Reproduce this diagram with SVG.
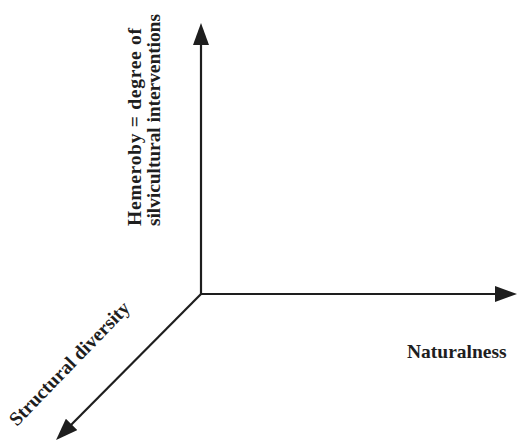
<svg xmlns="http://www.w3.org/2000/svg" width="518" height="440" viewBox="0 0 518 440">
<style>
.axis{stroke:#1e1e1e;stroke-width:2.2;fill:none;marker-end:url(#ah)}
.lbl{font-family:"Liberation Serif","Times New Roman",serif;font-weight:bold;font-size:19.5px;fill:#1e1e1e}
</style>
<defs>
<marker id="ah" viewBox="0 0 22 16" refX="10" refY="8" markerWidth="22" markerHeight="16" markerUnits="userSpaceOnUse" orient="auto">
<path d="M0,0 L22,8 L0,16 Z" fill="#1e1e1e"/>
</marker>
</defs>
<rect width="518" height="440" fill="#fff"/>
<g id="connectors">
<line class="axis" x1="201" y1="295" x2="201" y2="35"/>
<line class="axis" x1="200" y1="294" x2="505" y2="294"/>
<line class="axis" x1="201.5" y1="293.5" x2="64.5" y2="431.5"/>
</g>
<g id="hemeroby">
<text class="lbl" transform="translate(141,226) rotate(-90)" textLength="198" lengthAdjust="spacing">Hemeroby = degree of</text>
<text class="lbl" transform="translate(160,226) rotate(-90)" textLength="212" lengthAdjust="spacing">silvicultural interventions</text>
</g>
<g id="naturalness">
<text class="lbl" x="407" y="358">Naturalness</text>
</g>
<g id="structural">
<text class="lbl" text-anchor="middle" transform="translate(74,368) rotate(-46)">Structural diversity</text>
</g>
</svg>
